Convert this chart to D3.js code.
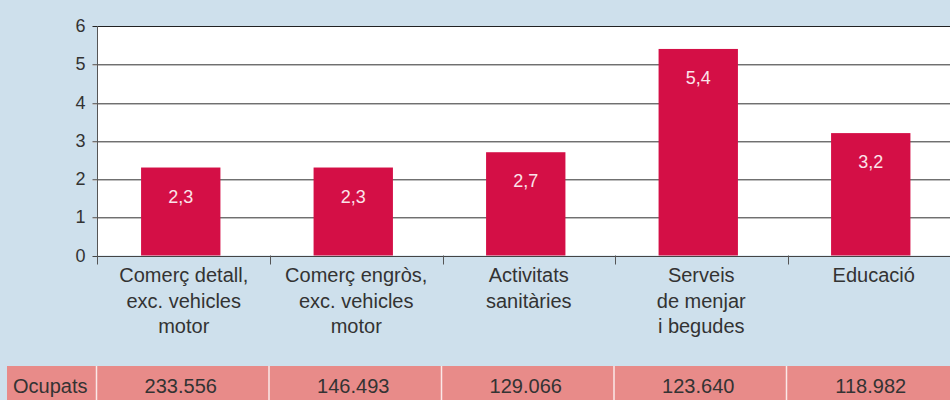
<!DOCTYPE html>
<html>
<head>
<meta charset="utf-8">
<script src="https://cdn.jsdelivr.net/npm/d3@7"></script>
<style>
  body { margin: 0; background: #cee0ec; }
  svg { display: block; font-family: "Liberation Sans", Arial, sans-serif; }
</style>
</head>
<body>
<div id="chart"></div>
<script>
// Data
const categories = [
    ["Comerç detall,", "exc. vehicles", "motor"],
    ["Comerç engròs,", "exc. vehicles", "motor"],
    ["Activitats", "sanitàries"],
    ["Serveis", "de menjar", "i begudes"],
    ["Educació"]
];
const values = [2.3, 2.3, 2.7, 5.4, 3.2];
const valueLabels = ["2,3", "2,3", "2,7", "5,4", "3,2"];
const rowTitle = "Ocupats";
const ocupats = ["233.556", "146.493", "129.066", "123.640", "118.982"];
const yTicks = [0, 1, 2, 3, 4, 5, 6];

const width = 950, height = 400;
const plot = {left: 97.5, right: 960, top: 26, bottom: 255.5};

const svg = d3.select("#chart")
    .append("svg")
    .attr("width", width)
    .attr("height", height);

svg.append("rect")
    .attr("width", width)
    .attr("height", height)
    .attr("fill", "#cee0ec");

// Scales
const x = d3.scaleBand()
    .domain(d3.range(categories.length))
    .range([plot.left, plot.right])
    .paddingInner(0.54)
    .paddingOuter(0.27);

const xStep = d3.scaleLinear()
    .domain([0, categories.length])
    .range([plot.left, plot.right]);

const y = d3.scaleLinear()
    .domain([0, 6])
    .range([plot.bottom, plot.top]);

// Plot background
svg.append("rect")
    .attr("x", plot.left)
    .attr("y", y(6))
    .attr("width", plot.right - plot.left)
    .attr("height", y(0) - y(6))
    .attr("fill", "#fff");

// Gridlines
const grid = svg.append("g");
yTicks.forEach(t => {
    const yy = Math.round(y(t)) + 0.5;
    if (t > 0 && t < 6) {
        grid.append("line")
            .attr("x1", plot.left - 5).attr("x2", width)
            .attr("y1", yy + 1).attr("y2", yy + 1)
            .attr("stroke", "#bdbdbd");
    }
    grid.append("line")
        .attr("x1", plot.left - 5).attr("x2", width)
        .attr("y1", yy).attr("y2", yy)
        .attr("stroke", t === 6 ? "#222" : (t === 0 ? "#444" : "#707070"))
        .attr("stroke-width", 1);
});

// Bars
svg.selectAll(".bar")
    .data(values)
    .join("rect")
    .attr("class", "bar")
    .attr("x", (d, i) => x(i) - 3)
    .attr("y", d => y(d))
    .attr("width", x.bandwidth())
    .attr("height", d => y(0) - y(d))
    .attr("fill", "#d40f46");

// Value labels
svg.selectAll(".vlabel")
    .data(values)
    .join("text")
    .attr("class", "vlabel")
    .attr("x", (d, i) => x(i) - 3 + x.bandwidth() / 2)
    .attr("y", d => y(d) + 35)
    .attr("text-anchor", "middle")
    .attr("font-size", 18)
    .attr("fill", "#fbe3ea")
    .text((d, i) => valueLabels[i]);

// Left axis line
svg.append("line")
    .attr("x1", plot.left).attr("x2", plot.left)
    .attr("y1", y(6)).attr("y2", y(0) + 9)
    .attr("stroke", "#555");

// Bottom ticks at category boundaries
svg.selectAll(".xtick")
    .data(d3.range(1, categories.length))
    .join("line")
    .attr("class", "xtick")
    .attr("x1", d => Math.round(xStep(d)) + 0.5)
    .attr("x2", d => Math.round(xStep(d)) + 0.5)
    .attr("y1", y(0)).attr("y2", y(0) + 9)
    .attr("stroke", "#555");

// Y tick labels
svg.selectAll(".ylabel")
    .data(yTicks)
    .join("text")
    .attr("class", "ylabel")
    .attr("x", plot.left - 12)
    .attr("y", d => y(d) + 6)
    .attr("text-anchor", "end")
    .attr("font-size", 18)
    .attr("fill", "#333")
    .text(d => d);

// Category labels
categories.forEach((lines, i) => {
    const t = svg.append("text")
        .attr("text-anchor", "middle")
        .attr("font-size", 20)
        .attr("fill", "#333");
    lines.forEach((line, j) => {
        t.append("tspan")
            .attr("x", xStep(i + 0.5))
            .attr("y", 282 + j * 25.5)
            .text(line);
    });
});

// Table row
const rowTop = 366;
svg.append("rect")
    .attr("x", 7)
    .attr("y", rowTop)
    .attr("width", width - 7)
    .attr("height", height - rowTop)
    .attr("fill", "#e88b89");

svg.selectAll(".sep")
    .data(d3.range(0, categories.length))
    .join("line")
    .attr("class", "sep")
    .attr("x1", d => xStep(d) - 1)
    .attr("x2", d => xStep(d) - 1)
    .attr("y1", rowTop).attr("y2", height)
    .attr("stroke", "#fbe9e8")
    .attr("stroke-width", 1.5);

svg.append("text")
    .attr("x", 13)
    .attr("y", 393)
    .attr("font-size", 20)
    .attr("fill", "#333")
    .text(rowTitle);

svg.selectAll(".cell")
    .data(ocupats)
    .join("text")
    .attr("class", "cell")
    .attr("x", (d, i) => xStep(i + 0.5) - 3)
    .attr("y", 393)
    .attr("text-anchor", "middle")
    .attr("font-size", 20)
    .attr("fill", "#333")
    .text(d => d);
</script>
</body>
</html>
